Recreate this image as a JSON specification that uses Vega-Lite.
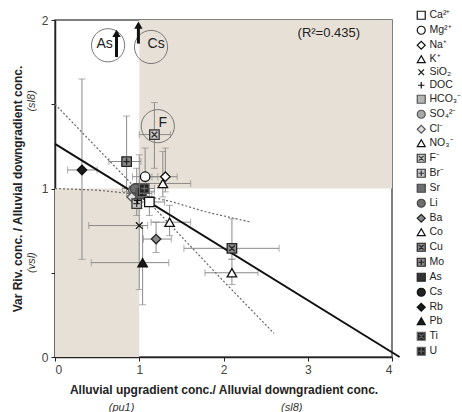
{
  "$schema": "https://vega.github.io/schema/vega-lite/v6.json",
  "width": 337,
  "height": 337,
  "autosize": "none",
  "padding": {"left": 55, "top": 20, "right": 70, "bottom": 55},
  "background": "white",
  "config": {
    "font": "Liberation Sans",
    "view": {"stroke": "#555", "strokeWidth": 1.5},
    "axis": {"grid": false, "domainColor": "#222", "domainWidth": 1.5, "tickColor": "#222", "tickSize": 4, "labelFontSize": 12, "labelColor": "#444", "titleFontSize": 12, "titleFontWeight": "bold", "titleColor": "#222", "labelPadding": 3}
  },
  "datasets": {
    "zones": [
      {"x": 1, "x2": 4, "y": 1, "y2": 2},
      {"x": 0, "x2": 1, "y": 0, "y2": 1}
    ],
    "hbars": [
      {"ion": "Rb", "y": 1.11, "xlo": 0.15, "xhi": 0.50},
      {"ion": "Mo", "y": 1.16, "xlo": 0.64, "xhi": 1.02},
      {"ion": "F", "y": 1.32, "xlo": 1.00, "xhi": 1.37},
      {"ion": "NO3", "y": 1.03, "xlo": 1.00, "xhi": 1.61},
      {"ion": "Na", "y": 1.07, "xlo": 1.15, "xhi": 1.45},
      {"ion": "Mg", "y": 1.07, "xlo": 0.92, "xhi": 1.22},
      {"ion": "Ca", "y": 0.92, "xlo": 0.98, "xhi": 1.30},
      {"ion": "HCO3", "y": 1.00, "xlo": 0.80, "xhi": 1.18},
      {"ion": "Sr", "y": 0.97, "xlo": 0.85, "xhi": 1.15},
      {"ion": "SiO2", "y": 0.78, "xlo": 0.40, "xhi": 1.10},
      {"ion": "Ba", "y": 0.70, "xlo": 1.05, "xhi": 1.38},
      {"ion": "Co", "y": 0.80, "xlo": 1.14, "xhi": 1.61},
      {"ion": "Pb", "y": 0.56, "xlo": 0.43, "xhi": 1.35},
      {"ion": "Cu", "y": 0.645, "xlo": 1.53, "xhi": 2.66},
      {"ion": "K", "y": 0.50, "xlo": 1.78, "xhi": 2.41},
      {"ion": "Li", "y": 1.00, "xlo": 0.88, "xhi": 1.05},
      {"ion": "Ti", "y": 0.98, "xlo": 0.90, "xhi": 1.18}
    ],
    "vbars": [
      {"ion": "Rb", "x": 0.32, "ylo": 0.58, "yhi": 1.65},
      {"ion": "Mo", "x": 0.85, "ylo": 0.98, "yhi": 1.43},
      {"ion": "F", "x": 1.18, "ylo": 1.12, "yhi": 1.51},
      {"ion": "Na", "x": 1.31, "ylo": 0.98, "yhi": 1.24},
      {"ion": "NO3", "x": 1.28, "ylo": 0.95, "yhi": 1.22},
      {"ion": "Mg", "x": 1.07, "ylo": 0.95, "yhi": 1.24},
      {"ion": "HCO3", "x": 1.00, "ylo": 0.88, "yhi": 1.20},
      {"ion": "Sr", "x": 0.97, "ylo": 0.84, "yhi": 1.12},
      {"ion": "Ca", "x": 1.12, "ylo": 0.84, "yhi": 1.00},
      {"ion": "SiO2", "x": 1.00, "ylo": 0.40, "yhi": 0.92},
      {"ion": "Ba", "x": 1.20, "ylo": 0.62, "yhi": 0.80},
      {"ion": "Co", "x": 1.36, "ylo": 0.72, "yhi": 0.90},
      {"ion": "Pb", "x": 1.04, "ylo": 0.31, "yhi": 0.78},
      {"ion": "Cu", "x": 2.10, "ylo": 0.58, "yhi": 0.82},
      {"ion": "K", "x": 2.10, "ylo": 0.43, "yhi": 0.58}
    ],
    "fit": [
      {"x": 0, "y": 1.265},
      {"x": 4.09, "y": 0}
    ],
    "bands": [
      {"band": "a", "x": 0, "y": 1.0},
      {"band": "a", "x": 0.5, "y": 0.99},
      {"band": "a", "x": 1.0, "y": 0.965},
      {"band": "a", "x": 1.4, "y": 0.92},
      {"band": "a", "x": 1.8, "y": 0.86},
      {"band": "a", "x": 2.33, "y": 0.80},
      {"band": "b", "x": 0, "y": 1.5},
      {"band": "b", "x": 1.0, "y": 0.98},
      {"band": "b", "x": 2.0, "y": 0.45},
      {"band": "b", "x": 2.6, "y": 0.14}
    ],
    "points": [
      {"ion": "HCO₃⁻", "x": 1.00, "y": 1.00},
      {"ion": "SO₄²⁻", "x": 0.93, "y": 0.99},
      {"ion": "Cl⁻", "x": 0.91, "y": 0.95},
      {"ion": "Br⁻", "x": 0.97, "y": 0.91},
      {"ion": "DOC", "x": 0.98, "y": 0.93},
      {"ion": "Li", "x": 0.95, "y": 1.00},
      {"ion": "Sr", "x": 1.02, "y": 0.97},
      {"ion": "Ca²⁺", "x": 1.12, "y": 0.92},
      {"ion": "Mg²⁺", "x": 1.07, "y": 1.07},
      {"ion": "Na⁺", "x": 1.31, "y": 1.07},
      {"ion": "K⁺", "x": 2.10, "y": 0.50},
      {"ion": "SiO₂", "x": 1.00, "y": 0.78},
      {"ion": "NO₃⁻", "x": 1.28, "y": 1.03},
      {"ion": "F⁻", "x": 1.18, "y": 1.32},
      {"ion": "Ba", "x": 1.20, "y": 0.70},
      {"ion": "Co", "x": 1.36, "y": 0.80},
      {"ion": "Cu", "x": 2.10, "y": 0.645},
      {"ion": "Mo", "x": 0.85, "y": 1.16},
      {"ion": "Rb", "x": 0.32, "y": 1.11},
      {"ion": "Pb", "x": 1.04, "y": 0.56},
      {"ion": "Ti", "x": 1.03, "y": 0.98},
      {"ion": "U", "x": 1.06, "y": 1.00}
    ],
    "circles": [
      {"label": "As", "x": 0.63, "y": 1.85, "tx": 0.59, "ty": 1.86},
      {"label": "Cs", "x": 1.14, "y": 1.84, "tx": 1.20, "ty": 1.86},
      {"label": "F", "x": 1.22, "y": 1.37, "tx": 1.28, "ty": 1.39}
    ],
    "arrows": [
      {"ion": "As", "x": 0.73, "y": 1.78, "y2": 1.92},
      {"ion": "Cs", "x": 0.99, "y": 1.86, "y2": 1.97}
    ],
    "subx": [
      {"label": "(pu1)", "x": 0.79, "y": -0.30},
      {"label": "(sl8)", "x": 2.81, "y": -0.30}
    ],
    "suby": [
      {"label": "(sl8)", "x": -0.27, "y": 1.52},
      {"label": "(vsl)", "x": -0.27, "y": 0.56}
    ],
    "r2": [
      {"label": "(R²=0.435)", "x": 3.25, "y": 1.92}
    ]
  },
  "layer": [
    {
      "data": {"name": "zones"},
      "mark": {"type": "rect", "color": "#e7e0d6"},
      "encoding": {
        "x": {"field": "x", "type": "quantitative", "title": "Alluvial upgradient conc./ Alluvial downgradient conc.", "scale": {"domain": [0, 4], "nice": false}, "axis": {"values": [0, 1, 2, 3, 4], "format": "d", "titlePadding": 9}},
        "x2": {"field": "x2"},
        "y": {"field": "y", "type": "quantitative", "title": "Var Riv. conc. / Alluvial downgradient conc.", "scale": {"domain": [0, 2], "nice": false}, "axis": {"values": [0, 0.5, 1, 1.5, 2], "labelExpr": "datum.value % 1 === 0 ? format(datum.value, 'd') : ''", "titlePadding": 17}},
        "y2": {"field": "y2"}
      }
    },
    {
      "data": {"name": "hbars"},
      "mark": {"type": "errorbar", "ticks": {"size": 7, "color": "#8a8a8a"}, "rule": {"color": "#8a8a8a", "strokeWidth": 1}},
      "encoding": {
        "x": {"field": "xlo", "type": "quantitative", "title": "Alluvial upgradient conc./ Alluvial downgradient conc."},
        "x2": {"field": "xhi"},
        "y": {"field": "y", "type": "quantitative", "title": "Var Riv. conc. / Alluvial downgradient conc."}
      }
    },
    {
      "data": {"name": "vbars"},
      "mark": {"type": "errorbar", "ticks": {"size": 7, "color": "#8a8a8a"}, "rule": {"color": "#8a8a8a", "strokeWidth": 1}},
      "encoding": {
        "y": {"field": "ylo", "type": "quantitative", "title": "Var Riv. conc. / Alluvial downgradient conc."},
        "y2": {"field": "yhi"},
        "x": {"field": "x", "type": "quantitative", "title": "Alluvial upgradient conc./ Alluvial downgradient conc."}
      }
    },
    {
      "data": {"name": "bands"},
      "mark": {"type": "line", "color": "#666", "strokeWidth": 1.2, "strokeDash": [2, 2]},
      "encoding": {
        "x": {"field": "x", "type": "quantitative", "title": "Alluvial upgradient conc./ Alluvial downgradient conc."},
        "y": {"field": "y", "type": "quantitative", "title": "Var Riv. conc. / Alluvial downgradient conc."},
        "detail": {"field": "band"}
      }
    },
    {
      "data": {"name": "fit"},
      "mark": {"type": "line", "color": "#111", "strokeWidth": 2, "clip": false},
      "encoding": {
        "x": {"field": "x", "type": "quantitative", "title": "Alluvial upgradient conc./ Alluvial downgradient conc."},
        "y": {"field": "y", "type": "quantitative", "title": "Var Riv. conc. / Alluvial downgradient conc."}
      }
    },
    {
      "data": {"name": "points"},
      "mark": {"type": "point", "filled": true, "size": 90, "strokeWidth": 1.3, "opacity": 1},
      "encoding": {
        "x": {"field": "x", "type": "quantitative", "title": "Alluvial upgradient conc./ Alluvial downgradient conc."},
        "y": {"field": "y", "type": "quantitative", "title": "Var Riv. conc. / Alluvial downgradient conc."},
        "shape": {"field": "ion", "type": "nominal",
          "scale": {"domain": ["Ca²⁺","Mg²⁺","Na⁺","K⁺","SiO₂","DOC","HCO₃⁻","SO₄²⁻","Cl⁻","NO₃⁻","F⁻","Br⁻","Sr","Li","Ba","Co","Cu","Mo","As","Cs","Rb","Pb","Ti","U"],
            "range": ["square","circle","diamond","triangle-up","M-0.7,-0.7L0.7,0.7M0.7,-0.7L-0.7,0.7","M-0.8,0L0.8,0M0,-0.8L0,0.8","square","circle","diamond","triangle-up","M-1,-1L1,-1L1,1L-1,1ZM-0.6,-0.6L0.6,0.6M0.6,-0.6L-0.6,0.6","M-1,-1L1,-1L1,1L-1,1ZM-0.7,0L0.7,0M0,-0.7L0,0.7","square","circle","diamond","triangle-up","M-1,-1L1,-1L1,1L-1,1ZM-0.6,-0.6L0.6,0.6M0.6,-0.6L-0.6,0.6","M-1,-1L1,-1L1,1L-1,1ZM-0.7,0L0.7,0M0,-0.7L0,0.7","square","circle","diamond","triangle-up","M-1,-1L1,-1L1,1L-1,1ZM-0.6,-0.6L0.6,0.6M0.6,-0.6L-0.6,0.6","M-1,-1L1,-1L1,1L-1,1ZM-0.7,0L0.7,0M0,-0.7L0,0.7"]},
          "legend": {"orient": "none", "legendX": 361, "legendY": -10, "title": null, "labelFontSize": 10.5, "labelColor": "#222", "symbolSize": 64, "rowPadding": 1.0, "symbolStrokeWidth": 1.2, "labelOffset": 3, "symbolLimit": 50}},
        "fill": {"field": "ion", "type": "nominal",
          "scale": {"domain": ["Ca²⁺","Mg²⁺","Na⁺","K⁺","SiO₂","DOC","HCO₃⁻","SO₄²⁻","Cl⁻","NO₃⁻","F⁻","Br⁻","Sr","Li","Ba","Co","Cu","Mo","As","Cs","Rb","Pb","Ti","U"],
            "range": ["#ffffff","#ffffff","#ffffff","#ffffff","transparent","transparent","#b5b5b5","#a8a8a8","#e0e0e0","#ffffff","#c8c8c8","#c8c8c8","#6e6e6e","#6e6e6e","#8a8a8a","#ffffff","#8a8a8a","#8a8a8a","#333333","#222222","#1a1a1a","#1a1a1a","#222222","#222222"]},
          "legend": {"orient": "none", "legendX": 361, "legendY": -10, "title": null, "labelFontSize": 10.5, "labelColor": "#222", "symbolSize": 64, "rowPadding": 1.0, "symbolStrokeWidth": 1.2, "labelOffset": 3, "symbolLimit": 50}},
        "stroke": {"field": "ion", "type": "nominal",
          "scale": {"domain": ["Ca²⁺","Mg²⁺","Na⁺","K⁺","SiO₂","DOC","HCO₃⁻","SO₄²⁻","Cl⁻","NO₃⁻","F⁻","Br⁻","Sr","Li","Ba","Co","Cu","Mo","As","Cs","Rb","Pb","Ti","U"],
            "range": ["#111111","#111111","#111111","#111111","#111111","#111111","#555555","#555555","#555555","#111111","#333333","#333333","#444444","#444444","#222222","#111111","#222222","#222222","#222222","#111111","#111111","#111111","#666666","#666666"]},
          "legend": {"orient": "none", "legendX": 361, "legendY": -10, "title": null, "labelFontSize": 10.5, "labelColor": "#222", "symbolSize": 64, "rowPadding": 1.0, "symbolStrokeWidth": 1.2, "labelOffset": 3, "symbolLimit": 50}}
      }
    },
    {
      "data": {"name": "circles"},
      "mark": {"type": "point", "shape": "circle", "size": 1100, "stroke": "#777", "strokeWidth": 1, "filled": false, "opacity": 1},
      "encoding": {
        "x": {"field": "x", "type": "quantitative", "title": "Alluvial upgradient conc./ Alluvial downgradient conc."},
        "y": {"field": "y", "type": "quantitative", "title": "Var Riv. conc. / Alluvial downgradient conc."}
      }
    },
    {
      "data": {"name": "circles"},
      "mark": {"type": "text", "fontSize": 14, "color": "#222"},
      "encoding": {
        "x": {"field": "tx", "type": "quantitative", "title": "Alluvial upgradient conc./ Alluvial downgradient conc."},
        "y": {"field": "ty", "type": "quantitative", "title": "Var Riv. conc. / Alluvial downgradient conc."},
        "text": {"field": "label"}
      }
    },
    {
      "data": {"name": "arrows"},
      "mark": {"type": "rule", "color": "#111", "strokeWidth": 3},
      "encoding": {
        "x": {"field": "x", "type": "quantitative", "title": "Alluvial upgradient conc./ Alluvial downgradient conc."},
        "y": {"field": "y", "type": "quantitative", "title": "Var Riv. conc. / Alluvial downgradient conc."},
        "y2": {"field": "y2"}
      }
    },
    {
      "data": {"name": "arrows"},
      "mark": {"type": "point", "shape": "triangle-up", "filled": true, "color": "#111", "size": 70, "opacity": 1},
      "encoding": {
        "x": {"field": "x", "type": "quantitative", "title": "Alluvial upgradient conc./ Alluvial downgradient conc."},
        "y": {"field": "y2", "type": "quantitative", "title": "Var Riv. conc. / Alluvial downgradient conc."}
      }
    },
    {
      "data": {"name": "r2"},
      "mark": {"type": "text", "fontSize": 13, "color": "#222"},
      "encoding": {
        "x": {"field": "x", "type": "quantitative", "title": "Alluvial upgradient conc./ Alluvial downgradient conc."},
        "y": {"field": "y", "type": "quantitative", "title": "Var Riv. conc. / Alluvial downgradient conc."},
        "text": {"field": "label"}
      }
    },
    {
      "data": {"name": "subx"},
      "mark": {"type": "text", "fontSize": 11, "fontStyle": "italic", "color": "#333", "clip": false},
      "encoding": {
        "x": {"field": "x", "type": "quantitative", "title": "Alluvial upgradient conc./ Alluvial downgradient conc."},
        "y": {"field": "y", "type": "quantitative", "title": "Var Riv. conc. / Alluvial downgradient conc."},
        "text": {"field": "label"}
      }
    },
    {
      "data": {"name": "suby"},
      "mark": {"type": "text", "fontSize": 11, "fontStyle": "italic", "color": "#333", "angle": 270, "clip": false},
      "encoding": {
        "x": {"field": "x", "type": "quantitative", "title": "Alluvial upgradient conc./ Alluvial downgradient conc."},
        "y": {"field": "y", "type": "quantitative", "title": "Var Riv. conc. / Alluvial downgradient conc."},
        "text": {"field": "label"}
      }
    }
  ]
}
